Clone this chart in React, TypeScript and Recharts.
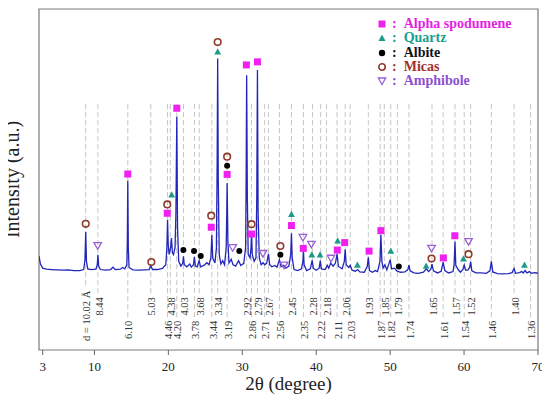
import React from 'react';
import { ComposedChart, Line, Scatter, XAxis, YAxis, ReferenceArea } from 'recharts';

const FONT = '"Liberation Serif", "Times New Roman", serif';

// XRD pattern: [2θ, intensity]
const pattern: [number, number][] = [
  [2.5, 27.5], [2.7, 25.2], [3.0, 24.0], [3.5, 23.7], [4.2, 23.6], [5.0, 23.5], [5.8, 23.4], [6.5, 23.5],
  [7.2, 23.3], [8.0, 23.3], [8.55, 23.6], [8.72, 26.5], [8.82, 34.7], [8.92, 26.0], [9.1, 23.8], [9.6, 23.6],
  [10.2, 23.7], [10.38, 25], [10.47, 27.9], [10.57, 24.6], [10.8, 23.6], [11.5, 23.4], [12.2, 23.6], [12.5, 24.3],
  [12.8, 23.6], [13.5, 23.7], [13.8, 24.2], [14.1, 23.8], [14.38, 25], [14.45, 32], [14.51, 49.6], [14.58, 30],
  [14.68, 24.2], [15.2, 23.5], [16.0, 23.4], [16.8, 23.5], [17.4, 23.6], [17.62, 24.8], [17.85, 23.6], [18.5, 23.6],
  [19.2, 23.9], [19.65, 25], [19.8, 30], [19.89, 38.1], [19.98, 31], [20.1, 28], [20.3, 30], [20.42, 32.8],
  [20.55, 28.5], [20.7, 28], [20.9, 30], [21.02, 40], [21.14, 68.4], [21.24, 36], [21.4, 26], [21.7, 24.6],
  [21.95, 25.5], [22.04, 27.5], [22.15, 25], [22.5, 24.4], [22.9, 25.2], [23.1, 24.3], [23.4, 25], [23.52, 27.3],
  [23.65, 24.6], [23.9, 24.4], [24.17, 26.2], [24.35, 24.4], [24.8, 24.8], [25.2, 25.6], [25.5, 25], [25.75, 27],
  [25.88, 33.7], [26.0, 27], [26.3, 25.5], [26.5, 30], [26.6, 55], [26.67, 85.5], [26.75, 50], [26.88, 28],
  [27.1, 25.2], [27.35, 26.2], [27.6, 25], [27.82, 30], [27.9, 40], [27.95, 49], [28.05, 32], [28.2, 25.5],
  [28.5, 26.6], [28.75, 25], [29.1, 24.6], [29.5, 26.2], [29.8, 24.8], [30.2, 25.4], [30.45, 30], [30.52, 50],
  [30.59, 80.6], [30.68, 45], [30.8, 28], [31.05, 27], [31.18, 30], [31.25, 34.7], [31.35, 28], [31.6, 26],
  [31.85, 27], [31.96, 45], [32.05, 82.1], [32.14, 40], [32.3, 27], [32.55, 25], [32.8, 25.6], [33.05, 25],
  [33.3, 25.5], [33.54, 28.2], [33.7, 25], [34.0, 24.4], [34.4, 24.8], [34.7, 24.3], [35.02, 26.5], [35.25, 24.4],
  [35.6, 24.8], [35.9, 24.0], [36.3, 24.6], [36.55, 28], [36.65, 34.2], [36.75, 27], [37.0, 23.6], [37.5, 23.3],
  [38.0, 23.8], [38.2, 26], [38.27, 29.3], [38.36, 25], [38.7, 23.3], [39.2, 23.8], [39.45, 26.3], [39.6, 24],
  [40.0, 23.4], [40.4, 24], [40.55, 26.2], [40.7, 23.8], [41.2, 23.6], [41.5, 24.8], [41.7, 24], [41.95, 25.5],
  [42.3, 24.6], [42.6, 25.5], [42.82, 28.2], [43.0, 24.5], [43.5, 23.8], [43.8, 26], [43.92, 29.5], [44.05, 25],
  [44.4, 24.2], [44.6, 24.8], [44.85, 23.4], [45.3, 23.1], [45.6, 23.6], [45.9, 22.9], [46.5, 22.8], [46.9, 24.5],
  [47.05, 27.2], [47.2, 23.3], [47.6, 22.8], [48.0, 23.3], [48.3, 23.0], [48.62, 26], [48.75, 33.8], [48.88, 26],
  [49.05, 24], [49.3, 25], [49.55, 23.5], [49.85, 25.4], [50.0, 26.5], [50.2, 23.8], [50.6, 24], [50.9, 23.2],
  [51.4, 22.8], [52.0, 22.9], [52.4, 23.6], [52.55, 24.9], [52.7, 23.2], [53.2, 22.6], [53.8, 22.5], [54.5, 22.8],
  [54.9, 23.8], [55.2, 23.0], [55.5, 23.6], [55.66, 25.2], [55.85, 23.2], [56.4, 22.6], [56.9, 23.1], [57.17, 25.8],
  [57.4, 23.3], [57.9, 22.6], [58.5, 23.0], [58.65, 25], [58.77, 31.8], [58.88, 24.8], [59.2, 23.6], [59.5, 22.8],
  [59.85, 23.6], [60.02, 24.9], [60.2, 23.4], [60.5, 23.4], [60.75, 24.2], [60.89, 25.9], [61.05, 23.2], [61.6, 22.6],
  [62.3, 22.6], [63.0, 22.5], [63.5, 23.2], [63.69, 26], [63.88, 22.9], [64.5, 22.4], [65.2, 22.3], [66.0, 22.4],
  [66.5, 22.7], [66.76, 23.9], [66.95, 22.5], [67.5, 22.7], [67.8, 23.0], [68.0, 22.6], [68.25, 23.3], [68.5, 22.6],
  [68.85, 23.0], [69.1, 22.5], [69.5, 22.7], [70.0, 22.5],
];

// Phase markers [2θ, intensity]
const spodumene: [number, number][] = [
  [14.51, 51.6], [19.85, 40.1], [21.14, 70.9], [25.8, 36.0], [27.95, 51.5], [30.55, 83.6], [31.25, 34.0],
  [32.05, 84.5], [36.65, 36.5], [38.25, 29.8], [42.85, 29.3], [43.85, 31.5], [47.15, 29.0], [48.75, 35.0],
  [57.2, 27.0], [58.75, 33.5],
];
const quartz: [number, number][] = [
  [20.45, 45.5], [26.67, 87.4], [36.65, 39.8], [39.4, 27.9], [40.52, 27.9], [42.9, 32.0], [45.57, 24.9],
  [50.09, 29.0], [54.87, 24.6], [59.92, 26.7], [68.17, 24.9],
];
const albite: [number, number][] = [
  [22.03, 29.3], [23.47, 29.0], [24.38, 27.6], [27.95, 54.0], [29.6, 29.0], [35.15, 27.9], [51.17, 24.5],
];
const micas: [number, number][] = [
  [8.82, 37.0], [17.7, 25.8], [19.85, 42.7], [25.8, 39.4], [26.67, 90.3], [27.95, 56.7], [31.25, 36.9],
  [35.15, 30.5], [55.6, 26.8], [60.6, 28.1],
];
const amphibole: [number, number][] = [
  [10.44, 30.6], [28.7, 30.0], [32.8, 28.3], [35.65, 24.9], [38.2, 33.0], [39.35, 31.0], [42.0, 26.9],
  [55.6, 29.8], [60.6, 31.8],
];

// d-spacing reference lines
const dPositions = [
  8.82, 10.47, 14.51, 17.62, 19.89, 20.26, 21.14, 22.04, 23.52, 24.17, 25.88, 26.67, 27.95, 30.59, 31.25,
  32.05, 33.03, 33.54, 35.02, 36.65, 38.27, 39.49, 40.6, 41.38, 42.82, 43.92, 44.6, 47.05, 48.65, 49.21,
  50.08, 50.98, 52.55, 55.66, 57.17, 58.77, 60.02, 60.89, 63.69, 66.76, 68.99,
];
const dLabels = [
  'd = 10.02 Å', '8.44', '6.10', '5.03', '4.46', '4.38', '4.20', '4.03', '3.78', '3.68', '3.44', '3.34', '3.19',
  '2.92', '2.86', '2.79', '2.71', '2.67', '2.56', '2.45', '2.35', '2.28', '2.22', '2.18', '2.11', '2.06', '2.03',
  '1.93', '1.87', '1.85', '1.82', '1.79', '1.74', '1.65', '1.61', '1.57', '1.54', '1.52', '1.46', '1.40', '1.36',
];
const dRows = [
  'both', 'upper', 'lower', 'upper', 'lower', 'upper', 'lower', 'upper', 'lower', 'upper', 'lower', 'upper',
  'lower', 'upper', 'lower', 'upper', 'lower', 'upper', 'lower', 'upper', 'lower', 'upper', 'lower', 'upper',
  'lower', 'upper', 'lower', 'upper', 'lower', 'upper', 'lower', 'upper', 'lower', 'upper', 'lower', 'upper',
  'lower', 'upper', 'lower', 'upper', 'lower',
];

const xTicks = [3, 10, 20, 30, 40, 50, 60, 70];
const yTicks = [20, 40, 60, 80];

const legendItems = [
  { name: 'Alpha spodumene', color: '#e41ee4', kind: 'square' },
  { name: 'Quartz', color: '#18a090', kind: 'triangle' },
  { name: 'Albite', color: '#111111', kind: 'dot' },
  { name: 'Micas', color: '#a3302a', kind: 'ring' },
  { name: 'Amphibole', color: '#8c4fd2', kind: 'down' },
];

const COLORS = {
  line: '#2226b8',
  spod: '#f020f0',
  quartz: '#1d9a8a',
  albite: '#000000',
  micas: '#8e3b2c',
  amph: '#9b5fd6',
};

const toPts = (arr: [number, number][]) => arr.map(([x, y]) => ({ x, y }));

const LINE_TOP = 72.1;
const lineEnd = (row: string) => (row === 'both' ? 18.5 : row === 'upper' ? 16.4 : 9.1);
const labelY = (row: string) => (row === 'both' ? 10.0 : row === 'upper' ? 12.8 : 5.9);

const dashData: { x: number; y: number | null }[] = [];
dPositions.forEach((x, i) => {
  dashData.push({ x, y: LINE_TOP });
  dashData.push({ x, y: lineEnd(dRows[i]) });
  dashData.push({ x, y: null });
});
const dLabelData = dPositions.map((x, i) => ({ x, y: labelY(dRows[i]), text: dLabels[i] }));

const Square = (p: any) => <rect x={p.cx - 3.5} y={p.cy - 3.5} width={7} height={7} fill={COLORS.spod} />;
const Tri = (p: any) => (
  <polygon points={`${p.cx},${p.cy - 3.6} ${p.cx + 3.4},${p.cy + 2.6} ${p.cx - 3.4},${p.cy + 2.6}`} fill={COLORS.quartz} />
);
const Dot = (p: any) => <circle cx={p.cx} cy={p.cy} r={3} fill={COLORS.albite} />;
const Ring = (p: any) => <circle cx={p.cx} cy={p.cy} r={3.3} fill="none" stroke={COLORS.micas} strokeWidth={1.6} />;
const Down = (p: any) => (
  <polygon points={`${p.cx - 3.8},${p.cy - 3} ${p.cx + 3.8},${p.cy - 3} ${p.cx},${p.cy + 3.6}`} fill="none" stroke={COLORS.amph} strokeWidth={1.3} />
);
const DLabel = (p: any) => (
  <text
    x={p.cx + 1}
    y={p.cy}
    transform={`rotate(-90 ${p.cx + 1} ${p.cy})`}
    textAnchor="middle"
    dy="0.35em"
    fontSize={10.5}
    fontFamily={FONT}
    fill="#333"
  >
    {p.payload.text}
  </text>
);

const LegendSymbol = ({ kind }: { kind: string }) => (
  <svg width={10} height={10} style={{ display: 'block' }}>
    {kind === 'square' && <rect x={1.5} y={1.5} width={7} height={7} fill={COLORS.spod} />}
    {kind === 'triangle' && <polygon points="5,1.5 8.5,8 1.5,8" fill={COLORS.quartz} />}
    {kind === 'dot' && <circle cx={5} cy={5} r={3.2} fill="#000" />}
    {kind === 'ring' && <circle cx={5} cy={5} r={3.2} fill="none" stroke={COLORS.micas} strokeWidth={1.6} />}
    {kind === 'down' && <polygon points="1.3,2 8.7,2 5,8.5" fill="none" stroke={COLORS.amph} strokeWidth={1.3} />}
  </svg>
);

const YLabel = (props: any) => {
  const vb = props.viewBox || { x: 0, y: 9, width: 39, height: 341 };
  const x = 19;
  const y = vb.y + vb.height / 2;
  return (
    <text x={x} y={y} transform={`rotate(-90 ${x} ${y})`} textAnchor="middle" fontSize={20} fontFamily={FONT} fill="#222">
      Intensity (a.u.)
    </text>
  );
};

export default function App() {
  return (
    <div style={{ position: 'relative', width: 550, height: 399, margin: '-8px 0 0 -8px' }}>
      <ComposedChart width={550} height={399} margin={{ top: 9, right: 12, bottom: 0, left: 0 }}>
        <XAxis
          dataKey="x"
          type="number"
          domain={[2.5, 70]}
          ticks={xTicks}
          interval={0}
          allowDataOverflow
          axisLine={false}
          tickLine={{ stroke: '#666' }}
          tickSize={5}
          tickMargin={7}
          height={49}
          tick={{ fontSize: 13, fontFamily: FONT, fill: '#222' }}
          label={{ value: '2θ (degree)', position: 'insideBottom', offset: 9, style: { fontSize: 19, fontFamily: FONT, fill: '#222' } }}
        />
        <YAxis
          type="number"
          domain={[0, 100]}
          ticks={yTicks}
          allowDataOverflow
          width={39}
          axisLine={false}
          tickLine={{ stroke: '#666' }}
          tickSize={6}
          tick={false}
          label={YLabel}
        />
        <Line data={dashData} dataKey="y" stroke="#c4c4c4" strokeWidth={1} strokeDasharray="5 3" dot={false} activeDot={false} connectNulls={false} isAnimationActive={false} />
        <Line data={toPts(pattern)} dataKey="y" stroke={COLORS.line} strokeWidth={1.3} dot={false} activeDot={false} isAnimationActive={false} />
        <Scatter data={dLabelData} dataKey="y" shape={DLabel} isAnimationActive={false} />
        <Scatter data={toPts(spodumene)} dataKey="y" shape={Square} isAnimationActive={false} />
        <Scatter data={toPts(quartz)} dataKey="y" shape={Tri} isAnimationActive={false} />
        <Scatter data={toPts(albite)} dataKey="y" shape={Dot} isAnimationActive={false} />
        <Scatter data={toPts(micas)} dataKey="y" shape={Ring} isAnimationActive={false} />
        <Scatter data={toPts(amphibole)} dataKey="y" shape={Down} isAnimationActive={false} />
        <ReferenceArea x1={2.5} x2={70} y1={0} y2={100} fill="none" stroke="#7a7a7a" strokeWidth={1.2} ifOverflow="visible" />
      </ComposedChart>
      <div style={{ position: 'absolute', left: 0, top: 0, width: 550, height: 399, pointerEvents: 'none' }}>
        {legendItems.map((it, i) => {
          const cy = 24 + i * 14.25;
          return (
            <div key={it.name} style={{ position: 'absolute', left: 377, top: cy - 8, height: 16, display: 'flex', alignItems: 'center' }}>
              <LegendSymbol kind={it.kind} />
              <span style={{ marginLeft: 5, fontFamily: FONT, fontWeight: 700, fontSize: 14, color: it.color, lineHeight: '16px', whiteSpace: 'nowrap' }}>
                :&nbsp;&nbsp;{it.name}
              </span>
            </div>
          );
        })}
      </div>
    </div>
  );
}
